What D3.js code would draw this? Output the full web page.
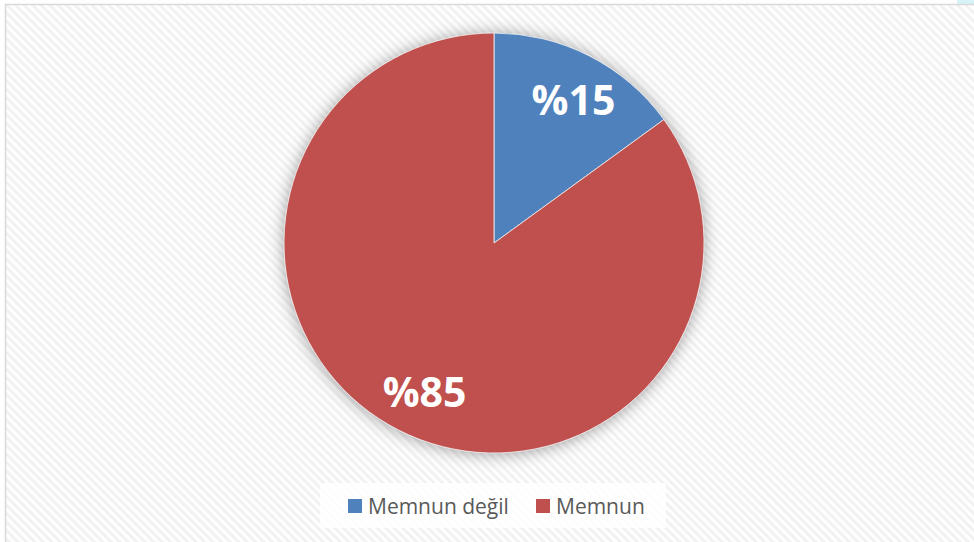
<!DOCTYPE html>
<html><head><meta charset="utf-8">
<script src="https://cdn.jsdelivr.net/npm/d3@7"></script>
<style>html,body{margin:0;padding:0;background:#fff;overflow:hidden}</style>
</head><body>
<script>
const categories = ["Memnun değil", "Memnun"];
const values = [15, 85];
const labels = ["%15", "%85"];
const colors = ["#4F81BD", "#C0504D"];

const W = 974, H = 542;
const svg = d3.select("body").append("svg").attr("width", W).attr("height", H);
const defs = svg.append("defs");
const pat = defs.append("pattern").attr("id","hatch").attr("patternUnits","userSpaceOnUse")
  .attr("width",6).attr("height",6).attr("patternTransform","rotate(-45)");
pat.append("rect").attr("width",6).attr("height",6).attr("fill","#fefefe");
pat.append("rect").attr("width",2.8).attr("height",6).attr("fill","#f1f1f1");
const f = defs.append("filter").attr("id","sh").attr("x","-20%").attr("y","-20%").attr("width","140%").attr("height","140%");
f.append("feDropShadow").attr("dx",0).attr("dy",1).attr("stdDeviation",8).attr("flood-color","#000").attr("flood-opacity",0.38);

svg.append("rect").attr("x",957).attr("y",0).attr("width",17).attr("height",4).attr("fill","#d6f3f7");
svg.append("rect").attr("x",5.5).attr("y",4.5).attr("width",980).attr("height",560)
  .attr("fill","url(#hatch)").attr("stroke","#d9d9d9").attr("stroke-width",1.5);

const cx = 494, cy = 243, R = 210;
const pie = d3.pie().sort(null).value(d => d)(values);
const arc = d3.arc().innerRadius(0).outerRadius(R);
const lab = d3.arc().innerRadius(164).outerRadius(164);
const g = svg.append("g").attr("transform",`translate(${cx},${cy})`);
g.append("circle").attr("r",R).attr("fill","#bbb").attr("filter","url(#sh)");
g.selectAll("path").data(pie).join("path").attr("d",arc)
  .attr("fill",(d,i)=>colors[i]).attr("stroke","#f4f4f4").attr("stroke-width",0.8);
g.selectAll("text").data(pie).join("text")
  .attr("transform",d=>{const c=lab.centroid(d);return `translate(${c[0]+5},${c[1]+3})`;})
  .attr("text-anchor","middle").attr("dy","0.36em")
  .attr("font-family","'Open Sans', sans-serif").attr("font-weight","bold")
  .attr("font-size",41).attr("fill","#fff").text((d,i)=>labels[i]);

// legend
svg.append("rect").attr("x",320).attr("y",483).attr("width",346).attr("height",45).attr("fill","#fff").attr("opacity",0.85);
const lx = [348, 536];
const lg = svg.selectAll("g.leg").data(categories).join("g").attr("class","leg")
  .attr("transform",(d,i)=>`translate(${lx[i]},499)`);
lg.append("rect").attr("width",14).attr("height",14).attr("fill",(d,i)=>colors[i]);
lg.append("text").attr("x",20).attr("y",14.5).attr("font-family","'Open Sans', sans-serif")
  .attr("font-size",21).attr("fill","#595959").text(d=>d);
</script>
</body></html>
